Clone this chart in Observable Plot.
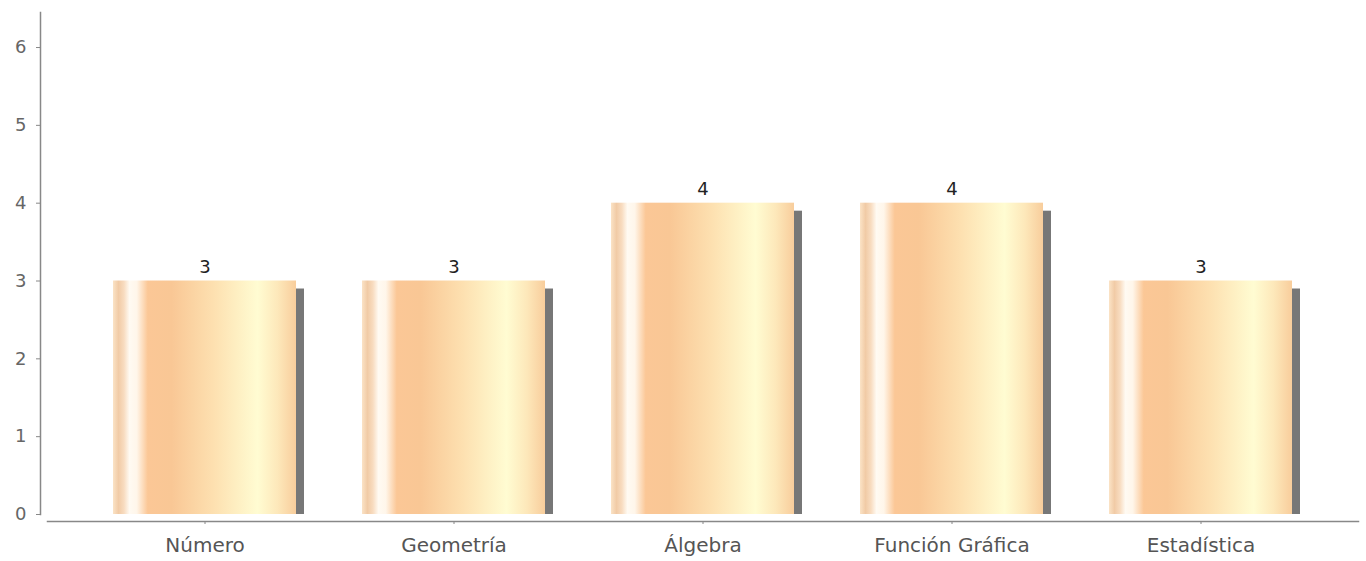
<!DOCTYPE html>
<html>
<head>
<meta charset="utf-8">
<script src="https://cdn.jsdelivr.net/npm/d3@7"></script>
<script src="https://cdn.jsdelivr.net/npm/@observablehq/plot@0.6"></script>
<style>
  html, body { margin: 0; padding: 0; background: #fff; }
  #chart svg { display: block; }
</style>
</head>
<body>
<div id="chart"></div>
<script>
const categories = ["Número", "Geometría", "Álgebra", "Función Gráfica", "Estadística"];
const values = [3, 3, 4, 4, 3];
const yTicks = [0, 1, 2, 3, 4, 5, 6];

const data = categories.map((c, i) => ({category: c, value: values[i]}));

const gradientDefs = () => {
  const defs = d3.create("svg:defs");
  const g = defs.append("linearGradient")
    .attr("id", "barGrad")
    .attr("x1", "0").attr("x2", "1").attr("y1", "0").attr("y2", "0");
  [
    [0.00, "#fbe3c6"],
    [0.03, "#f1cba6"],
    [0.06, "#f8dcc0"],
    [0.09, "#fffaf2"],
    [0.13, "#fff6ea"],
    [0.19, "#fbc796"],
    [0.32, "#f9c795"],
    [0.55, "#fde0b0"],
    [0.79, "#fffcd2"],
    [0.90, "#fde8ba"],
    [1.00, "#f8cd9c"]
  ].forEach(([o, c]) => g.append("stop").attr("offset", o).attr("stop-color", c));
  return defs.node();
};

const chart = Plot.plot({
  width: 1366,
  height: 561,
  marginLeft: 47,
  marginRight: 8,
  marginTop: 12,
  marginBottom: 47,
  style: {fontFamily: "DejaVu Sans", background: "#fff"},
  x: {domain: categories, padding: 0.265, label: null},
  y: {domain: [0, 6.45], label: null},
  marks: [
    gradientDefs,
    Plot.barY(data, {x: "category", y: "value", dx: 8, insetTop: 8, fill: "#777777"}),
    Plot.barY(data, {x: "category", y: "value", fill: "url(#barGrad)"}),
    Plot.text(data, {x: "category", y: "value", text: d => String(d.value), dy: -14, fontSize: 18, fill: "#222"}),
    Plot.frame({anchor: "left", dx: -7, stroke: "#888", strokeWidth: 1.5}),
    Plot.frame({anchor: "bottom", dy: 7, stroke: "#888", strokeWidth: 1.5}),
    Plot.axisY({ticks: yTicks, tickFormat: "d", tickSize: 4, tickPadding: 10, dx: -7, fontSize: 18, color: "#666", stroke: "#888", label: null}),
    Plot.axisX({tickSize: 3, tickPadding: 13, dy: 7, fontSize: 20, color: "#555", stroke: "#888", label: null})
  ]
});

document.getElementById("chart").appendChild(chart);
</script>
</body>
</html>
